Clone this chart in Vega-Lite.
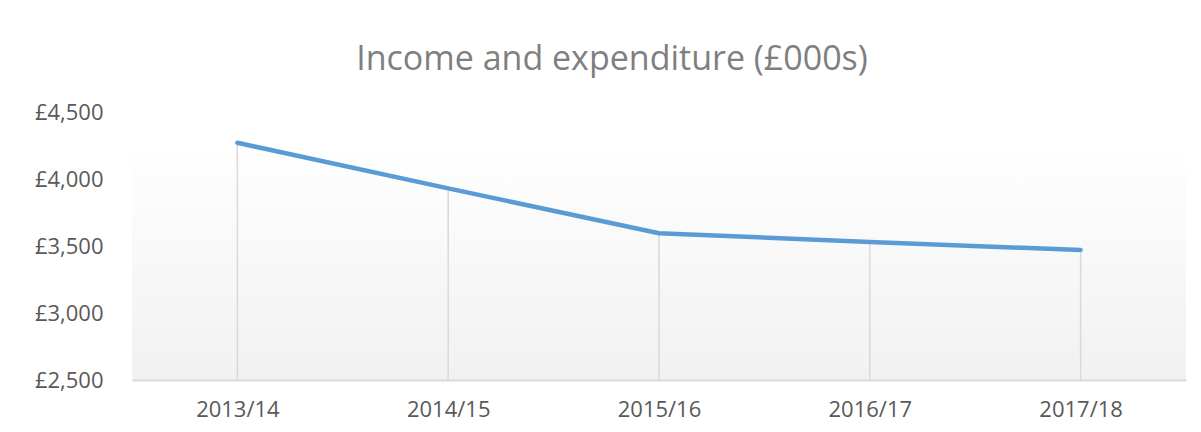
{
  "$schema": "https://vega.github.io/schema/vega-lite/v6.json",
  "width": 1054,
  "height": 268,
  "autosize": {"type": "none"},
  "padding": {"left": 132, "top": 112, "right": 15, "bottom": 52},
  "background": "#ffffff",
  "title": {
    "text": "Income and expenditure (£000s)",
    "font": "Open Sans",
    "fontSize": 34,
    "fontWeight": "normal",
    "color": "#7f7f7f",
    "anchor": "middle",
    "dx": -47,
    "offset": 24
  },
  "config": {
    "view": {
      "stroke": null,
      "fill": {
        "gradient": "linear",
        "x1": 0, "y1": 0, "x2": 0, "y2": 1,
        "stops": [
          {"offset": 0, "color": "#ffffff"},
          {"offset": 0.12, "color": "#ffffff"},
          {"offset": 1, "color": "#f1f1f1"}
        ]
      }
    },
    "axis": {
      "labelFont": "Open Sans",
      "labelFontSize": 22,
      "labelColor": "#595959",
      "grid": false,
      "ticks": false,
      "title": null
    }
  },
  "data": {
    "values": [
      {"year": "2013/14", "value": 4270},
      {"year": "2014/15", "value": 3930},
      {"year": "2015/16", "value": 3595},
      {"year": "2016/17", "value": 3530},
      {"year": "2017/18", "value": 3470}
    ]
  },
  "encoding": {
    "x": {
      "field": "year",
      "type": "ordinal",
      "scale": {"type": "point", "padding": 0.5},
      "axis": {"labelAngle": 0, "domainColor": "#d9d9d9", "domainWidth": 2, "labelPadding": 19}
    }
  },
  "layer": [
    {
      "mark": {"type": "rule", "color": "#d9d9d9", "strokeWidth": 1.5},
      "encoding": {
        "y": {
          "field": "value",
          "type": "quantitative",
          "scale": {"domain": [2500, 4500], "nice": false, "zero": false},
          "axis": {
            "domain": false,
            "values": [2500, 3000, 3500, 4000, 4500],
            "labelExpr": "'£' + format(datum.value, ',')",
            "labelPadding": 29
          }
        },
        "y2": {"datum": 2500}
      }
    },
    {
      "mark": {"type": "line", "color": "#5b9bd5", "strokeWidth": 4.5, "strokeCap": "round", "strokeJoin": "round"},
      "encoding": {
        "y": {"field": "value", "type": "quantitative"}
      }
    }
  ]
}
